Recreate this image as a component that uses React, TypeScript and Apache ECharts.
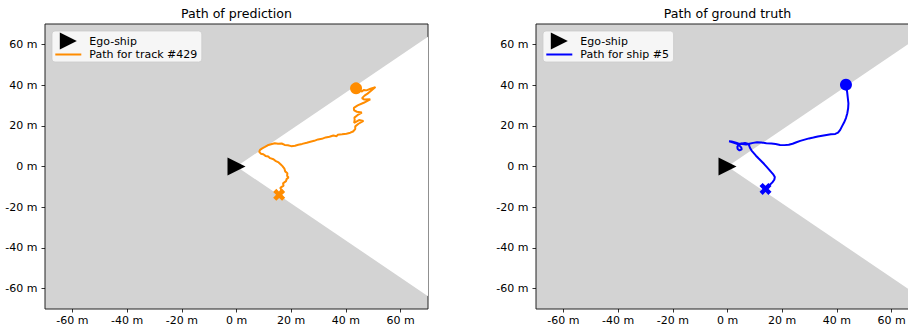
import React, { useEffect, useRef } from "react";
import * as echarts from "echarts";

// ---- data ----
const xTicks = [-60, -40, -20, 0, 20, 40, 60];
const yTicks = [-60, -40, -20, 0, 20, 40, 60];
const axisMin = -70;
const axisMax = 70;
const fovHalfAngleDeg = 42.3;
const egoShip = [[0, 0]];

const predTitle = "Path of prediction";
const truthTitle = "Path of ground truth";
const predName = "Path for track #429";
const truthName = "Path for ship #5";

const predPath = [
  [15.6, -13.9], [15.9, -12.6], [16.4, -11.3], [16.0, -10.5], [17.2, -9.4], [17.0, -8.3],
  [18.1, -7.2], [18.3, -6.2], [19.0, -5.4], [18.5, -4.6], [18.6, -3.3], [17.8, -2.4],
  [17.5, -1.0], [16.8, 0.2], [16.2, 1.0], [15.4, 2.0], [14.2, 2.8], [13.5, 3.6],
  [12.3, 4.1], [11.6, 4.9], [10.6, 5.2], [9.8, 6.0], [8.9, 6.3], [8.3, 7.2],
  [8.6, 8.2], [9.4, 8.9], [10.4, 9.6], [11.4, 10.4], [12.6, 10.9], [14.0, 11.4],
  [15.2, 11.2], [16.5, 11.3], [17.6, 10.6], [18.8, 10.4], [20.0, 10.0], [21.4, 10.2],
  [22.6, 10.7], [24.0, 11.1], [25.7, 11.7], [27.0, 12.2], [28.4, 12.6], [29.8, 13.3],
  [31.2, 13.6], [32.6, 14.3], [34.0, 14.6], [35.4, 15.2], [36.6, 14.9], [37.0, 15.6],
  [38.6, 15.8], [40.2, 16.1], [41.6, 16.6], [42.6, 17.2], [43.4, 18.4], [43.4, 19.7],
  [44.6, 21.0], [46.4, 22.4], [44.8, 22.8], [43.0, 21.4], [43.2, 23.0], [43.1, 24.0],
  [44.2, 25.2], [45.8, 26.5], [44.0, 26.9], [43.0, 27.6], [42.9, 28.8], [44.3, 30.0],
  [46.5, 31.3], [48.9, 33.0], [46.6, 32.9], [45.9, 33.6], [46.8, 34.8], [47.9, 35.8],
  [49.3, 37.3], [50.8, 39.0], [49.0, 38.2], [47.5, 37.4], [46.6, 37.6], [45.7, 36.8],
  [44.9, 37.9], [43.7, 38.4],
];
const predStart = [[15.6, -13.9]];
const predEnd = [[43.7, 38.4]];

const truthPath = [
  [13.9, -11.0], [14.6, -10.0], [15.5, -9.0], [16.4, -7.8], [17.1, -6.5], [17.3, -5.2],
  [16.8, -4.0], [16.0, -2.8], [15.2, -1.5], [14.4, -0.3], [13.4, 1.2], [12.4, 2.6],
  [11.4, 3.9], [10.4, 5.3], [9.6, 6.6], [8.8, 7.8], [8.2, 9.2], [7.9, 10.4],
  [7.4, 11.2], [6.4, 11.5], [5.2, 11.3], [4.2, 10.7], [3.6, 9.8], [3.7, 8.6],
  [4.4, 7.9], [5.2, 8.4], [5.0, 9.4], [4.3, 10.4], [3.2, 11.3], [1.8, 11.9],
  [0.6, 12.4], [1.5, 12.3], [2.8, 11.8], [4.0, 11.3], [5.4, 11.0], [6.8, 10.8],
  [8.0, 11.2], [9.4, 11.6], [10.8, 11.9], [12.4, 11.8], [14.2, 11.4], [16.0, 11.3],
  [17.6, 11.0], [19.2, 10.6], [20.8, 10.5], [22.4, 10.7], [23.8, 11.2], [25.2, 11.9],
  [26.6, 12.6], [28.2, 13.2], [29.8, 13.8], [31.4, 14.2], [33.0, 14.7], [34.6, 15.1],
  [36.2, 15.5], [37.8, 15.8], [39.4, 16.0], [40.4, 16.6], [41.2, 18.0], [41.8, 19.6],
  [42.6, 21.6], [43.3, 23.8], [43.8, 26.2], [44.1, 28.6], [44.2, 31.0], [44.0, 33.4],
  [43.8, 35.8], [43.6, 38.0], [43.3, 40.2],
];
const truthStart = [[13.9, -11.0]];
const truthEnd = [[43.3, 40.2]];

// ---- styles ----
const FONT = "DejaVu Sans";
const ORANGE = "#ff8c00";
const BLUE = "#0000ff";
const TICK_FONT = 11;
const LEGEND_FONT = 11;
const TITLE_FONT = 12.6;
const TRI_ICON = "path://M0,0 L10,5 L0,10 Z";
const LINE_ICON = "path://M0,0 L26,0 L26,2 L0,2 Z";
const X_ICON =
  "path://M0,2.6 L2.6,0 L5,2.4 L7.4,0 L10,2.6 L7.6,5 L10,7.4 L7.4,10 L5,7.6 L2.6,10 L0,7.4 L2.4,5 Z";

function wedgeRender(params: any, api: any) {
  const r = 300;
  const a = (fovHalfAngleDeg * Math.PI) / 180;
  const pts = [
    api.coord([0, 0]),
    api.coord([r * Math.cos(a), r * Math.sin(a)]),
    api.coord([r * Math.cos(a), -r * Math.sin(a)]),
  ];
  return {
    type: "polygon",
    shape: { points: pts },
    style: { fill: "#ffffff" },
  };
}

function makeAxis(gridIndex: number, ticks: number[], isX: boolean) {
  return {
    type: "value",
    gridIndex,
    min: axisMin,
    max: axisMax,
    axisLine: { show: false, onZero: false },
    axisTick: {
      show: true,
      length: 3.5,
      customValues: ticks,
      lineStyle: { color: "#000", width: 0.8 },
    },
    axisLabel: {
      customValues: ticks,
      formatter: (v: number) => `${v} m`,
      margin: isX ? 6 : 7.5,
      fontSize: TICK_FONT,
      color: "#000",
      fontFamily: FONT,
    },
    splitLine: { show: false },
  };
}

function makeSeries(
  idx: number,
  pathName: string,
  path: number[][],
  start: number[][],
  end: number[][],
  color: string
) {
  return [
    {
      type: "custom",
      name: "fov" + idx,
      xAxisIndex: idx,
      yAxisIndex: idx,
      data: [[0, 0]],
      renderItem: wedgeRender,
      clip: true,
      silent: true,
      z: 1,
    },
    {
      type: "line",
      name: pathName,
      xAxisIndex: idx,
      yAxisIndex: idx,
      data: path,
      showSymbol: false,
      symbol: "none",
      color,
      itemStyle: { color },
      lineStyle: { color, width: 2 },
      clip: true,
      z: 3,
    },
    {
      type: "scatter",
      name: "start" + idx,
      xAxisIndex: idx,
      yAxisIndex: idx,
      data: start,
      symbol: X_ICON,
      symbolSize: 12,
      itemStyle: { color, opacity: 1 },
      z: 4,
    },
    {
      type: "scatter",
      name: "end" + idx,
      xAxisIndex: idx,
      yAxisIndex: idx,
      data: end,
      symbol: "circle",
      symbolSize: 12,
      itemStyle: { color, opacity: 1 },
      z: 4,
    },
    {
      type: "scatter",
      name: "Ego-ship",
      xAxisIndex: idx,
      yAxisIndex: idx,
      data: egoShip,
      symbol: TRI_ICON,
      symbolSize: [18, 18],
      itemStyle: { color: "#000", opacity: 1 },
      z: 5,
    },
  ];
}

function makeLegend(left: number, pathName: string) {
  return {
    orient: "vertical",
    left,
    top: 31,
    data: [
      { name: "Ego-ship", icon: TRI_ICON },
      { name: pathName, icon: LINE_ICON },
    ],
    itemWidth: 26,
    itemHeight: 17,
    itemGap: -0.5,
    padding: [1.5, 4.5, 2, 3.3],
    backgroundColor: "rgba(255,255,255,0.8)",
    borderColor: "rgba(204,204,204,0.8)",
    borderWidth: 1,
    borderRadius: 3,
    selectedMode: false,
    textStyle: {
      fontSize: LEGEND_FONT,
      color: "#000",
      fontFamily: FONT,
      padding: [0, 0, 0, 3],
    },
    z: 10,
  };
}

export default function App() {
  const ref = useRef<HTMLDivElement>(null);
  useEffect(() => {
    if (!ref.current) return;
    const chart = echarts.init(ref.current, undefined, { renderer: "svg" });
    const grids = [
      { left: 45, top: 24, width: 383, height: 285 },
      { left: 536, top: 24, width: 383, height: 285 },
    ].map((g) => ({
      ...g,
      show: true,
      backgroundColor: "#d3d3d3",
      borderColor: "#222",
      borderWidth: 1,
      containLabel: false,
    }));
    chart.setOption({
      animation: false,
      textStyle: { fontFamily: FONT },
      grid: grids,
      xAxis: [makeAxis(0, xTicks, true), makeAxis(1, xTicks, true)],
      yAxis: [makeAxis(0, yTicks, false), makeAxis(1, yTicks, false)],
      legend: [makeLegend(52, predName), makeLegend(543, truthName)],
      graphic: [
        {
          type: "text",
          x: 236.5,
          y: 13.5,
          style: {
            text: predTitle,
            fontSize: TITLE_FONT,
            fontFamily: FONT,
            fill: "#000",
            align: "center",
            verticalAlign: "middle",
          },
        },
        {
          type: "text",
          x: 727.5,
          y: 13.5,
          style: {
            text: truthTitle,
            fontSize: TITLE_FONT,
            fontFamily: FONT,
            fill: "#000",
            align: "center",
            verticalAlign: "middle",
          },
        },
      ],
      series: [
        ...makeSeries(0, predName, predPath, predStart, predEnd, ORANGE),
        ...makeSeries(1, truthName, truthPath, truthStart, truthEnd, BLUE),
      ],
    });
    return () => chart.dispose();
  }, []);
  return (
    <div
      style={{
        position: "fixed",
        left: 0,
        top: 0,
        width: 908,
        height: 331,
        overflow: "hidden",
        background: "#fff",
      }}
    >
      <div ref={ref} style={{ width: 920, height: 331 }} />
    </div>
  );
}
